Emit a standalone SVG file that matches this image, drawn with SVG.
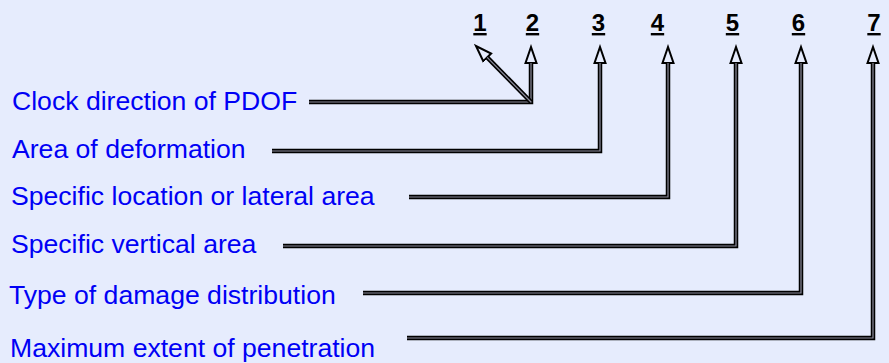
<svg xmlns="http://www.w3.org/2000/svg" width="889" height="363" viewBox="0 0 889 363">
<style>
.lbl{font-family:"Liberation Sans",Arial,sans-serif;font-size:26.6px;fill:#0000f5}
.num{font-family:"Liberation Sans",Arial,sans-serif;font-size:24px;font-weight:bold;fill:#000;text-anchor:middle;text-decoration:underline}
.o{fill:none;stroke:#000;stroke-width:4.5;stroke-linejoin:miter}
.i{fill:none;stroke:#8c8c9c;stroke-width:1.2;stroke-linejoin:miter}
.ar{marker-end:url(#head)}
</style>
<defs>
<marker id="head" markerUnits="userSpaceOnUse" viewBox="-1 -8 20 16" refX="0" refY="0" markerWidth="20" markerHeight="16" orient="auto">
<path d="M0,-5.5 L16,0 L0,5.5 Z" fill="#e6ecfd" stroke="#000" stroke-width="2" stroke-linejoin="miter"/>
</marker>
</defs>
<rect width="889" height="363" fill="#e6ecfd"/>
<g id="numbers">
<text class="num" x="480" y="31">1</text>
<text class="num" x="532.5" y="31">2</text>
<text class="num" x="598.5" y="31">3</text>
<text class="num" x="657.5" y="31">4</text>
<text class="num" x="732.5" y="31">5</text>
<text class="num" x="798.5" y="31">6</text>
<text class="num" x="874" y="31">7</text>
</g>
<g id="node-1"><text class="lbl" x="12" y="110">Clock direction of PDOF</text></g>
<g id="node-2"><text class="lbl" x="12" y="158">Area of deformation</text></g>
<g id="node-3"><text class="lbl" x="11" y="205">Specific location or lateral area</text></g>
<g id="node-4"><text class="lbl" x="11" y="253">Specific vertical area</text></g>
<g id="node-5"><text class="lbl" x="9" y="304">Type of damage distribution</text></g>
<g id="node-6"><text class="lbl" x="10" y="357">Maximum extent of penetration</text></g>
<g id="connectors">
<path class="o ar" d="M309,102 H531 V63"/>
<path class="i" d="M309,102 H531 V63"/>
<path class="o ar" d="M531,102 L487.2,57.4"/>
<path class="i" d="M531,102 L487.2,57.4"/>
<path class="o ar" d="M272,151 H600 V63"/>
<path class="i" d="M272,151 H600 V63"/>
<path class="o ar" d="M409,197 H668 V63"/>
<path class="i" d="M409,197 H668 V63"/>
<path class="o ar" d="M283,246 H736 V63"/>
<path class="i" d="M283,246 H736 V63"/>
<path class="o ar" d="M363,293 H801 V63"/>
<path class="i" d="M363,293 H801 V63"/>
<path class="o ar" d="M407,338 H873 V63"/>
<path class="i" d="M407,338 H873 V63"/>
</g>
</svg>
